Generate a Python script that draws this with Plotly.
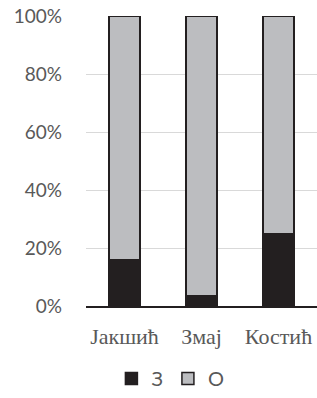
import plotly.graph_objects as go

categories = ["Јакшић", "Змај", "Костић"]
z_values = [16, 3.5, 25]
o_values = [84, 96.5, 75]
y_ticks = [0, 20, 40, 60, 80, 100]
y_tick_labels = ["0%", "20%", "40%", "60%", "80%", "100%"]

fig = go.Figure()
fig.add_trace(go.Bar(x=categories, y=z_values, name="З",
                     marker=dict(color="#231f20", line=dict(color="#231f20", width=1.5))))
fig.add_trace(go.Bar(x=categories, y=o_values, name="О",
                     marker=dict(color="#bcbdc0", line=dict(color="#231f20", width=1.5))))

fig.update_layout(
    barmode="stack",
    bargap=0.6,
    width=317, height=398,
    margin=dict(l=86, r=0, t=16, b=92, autoexpand=False),
    plot_bgcolor="white", paper_bgcolor="white",
    showlegend=True,
    legend=dict(orientation="h", x=0.11, xanchor="left",
                yref="container", y=0.0, yanchor="bottom",
                font=dict(family="Lato, sans-serif", size=20, color="#595959"),
                itemwidth=30, traceorder="normal"),
    xaxis=dict(showline=True, linecolor="#231f20", linewidth=1.5, automargin=False,
               tickfont=dict(family="Liberation Serif, serif", size=22, color="#595959"),
               ticks="", ticklabelstandoff=10),
    yaxis=dict(range=[0, 100], tickvals=y_ticks, ticktext=y_tick_labels, automargin=False,
               showgrid=True, gridcolor="#d9d9d9", gridwidth=1, zeroline=False,
               tickfont=dict(family="Lato, sans-serif", size=19, color="#595959"),
               ticklabelstandoff=23),
)

fig.write_html("out.html", config={"displayModeBar": False},
               post_script="document.body.style.margin='0';document.body.style.overflow='hidden';")
